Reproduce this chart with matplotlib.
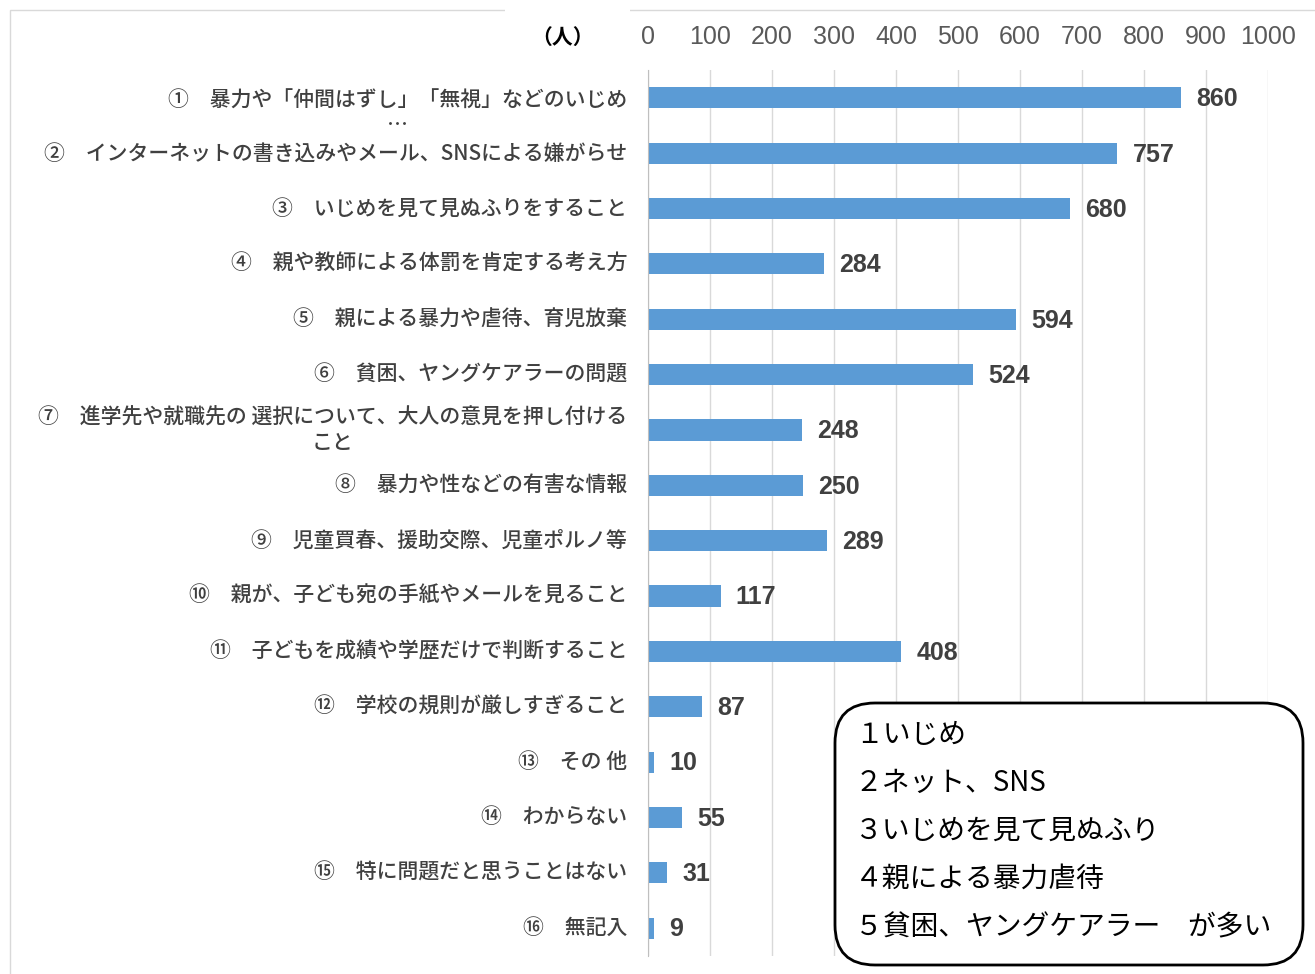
import numpy as np
import matplotlib
matplotlib.use('Agg')
import matplotlib.pyplot as plt
from matplotlib.patches import FancyBboxPatch, Rectangle
from matplotlib.transforms import IdentityTransform, blended_transform_factory

plt.rcParams['font.family'] = ['Noto Sans CJK JP', 'DejaVu Sans']

# データ
labels = [
    "①　暴力や「仲間はずし」「無視」などのいじめ\n…",
    "②　インターネットの書き込みやメール、SNSによる嫌がらせ",
    "③　いじめを見て見ぬふりをすること",
    "④　親や教師による体罰を肯定する考え方",
    "⑤　親による暴力や虐待、育児放棄",
    "⑥　貧困、ヤングケアラーの問題",
    "⑦　進学先や就職先の 選択について、大人の意見を押し付ける\nこと",
    "⑧　暴力や性などの有害な情報",
    "⑨　児童買春、援助交際、児童ポルノ等",
    "⑩　親が、子ども宛の手紙やメールを見ること",
    "⑪　子どもを成績や学歴だけで判断すること",
    "⑫　学校の規則が厳しすぎること",
    "⑬　その 他",
    "⑭　わからない",
    "⑮　特に問題だと思うことはない",
    "⑯　無記入",
]
values = [860, 757, 680, 284, 594, 524, 248, 250, 289, 117, 408, 87, 10, 55, 31, 9]
xticks = np.arange(0, 1001, 100)
summary = ["１いじめ", "２ネット、SNS", "３いじめを見て見ぬふり",
           "４親による暴力虐待", "５貧困、ヤングケアラー　が多い"]

W, H = 1315, 974
fig = plt.figure(figsize=(W / 100, H / 100), dpi=100)

# 外枠
fig.patches.append(Rectangle((10, -5), W, H - 5, transform=IdentityTransform(),
                             fill=False, edgecolor='#d9d9d9', lw=1))
fig.patches.append(Rectangle((505, H - 45), 125, 45, transform=IdentityTransform(),
                             facecolor='white', edgecolor='none'))

ax = fig.add_axes([648 / W, 1 - 955.7 / H, 620 / W, (955.7 - 70.3) / H])
y = np.arange(len(values))
ax.barh(y, values, height=0.38, color='#5B9BD5', zorder=2)

ax.set_xlim(0, 1000)
ax.set_ylim(len(values) - 0.5, -0.5)
ax.xaxis.tick_top()
ax.set_xticks(xticks)
ax.set_xticklabels([str(t) for t in xticks], family='Liberation Sans',
                   fontsize=18, color='#595959')
ax.tick_params(axis='x', length=0, pad=15)
ax.set_yticks([])
ax.grid(axis='x', color='#d9d9d9', lw=1, zorder=0)
ax.set_axisbelow(True)
for s in ['top', 'right', 'bottom']:
    ax.spines[s].set_visible(False)
ax.spines['left'].set_color('#bfbfbf')

for i, v in enumerate(values):
    ax.annotate(str(v), (v, i), xytext=(11, -1), textcoords='offset points',
                va='center', ha='left', family='Liberation Sans',
                fontweight='bold', fontsize=18, color='#404040')

tr = blended_transform_factory(ax.transAxes, ax.transData)
for i, lab in enumerate(labels):
    dy = -11 if i == 0 else 0
    ax.annotate(lab, (0, i), xycoords=tr, xytext=(-15, dy), textcoords='offset points',
                ha='right', va='center', multialignment='center',
                fontsize=15, color='#404040', fontweight='medium', linespacing=1.2)

fig.text(563 / W, 1 - 37 / H, "（人）", ha='center', va='center',
         fontsize=15, fontweight='bold', color='black')

# まとめの枠
fig.patches.append(FancyBboxPatch((835, H - 965), 468, 262, transform=IdentityTransform(),
                                  boxstyle='round,pad=0,rounding_size=40',
                                  facecolor='white', edgecolor='black', lw=2, zorder=5))
for k, s in enumerate(summary):
    fig.text(855 / W, 1 - (735 + 48 * k) / H, s, ha='left', va='center',
             fontsize=20, color='black', zorder=6)

fig.savefig('out.png', dpi=100)
